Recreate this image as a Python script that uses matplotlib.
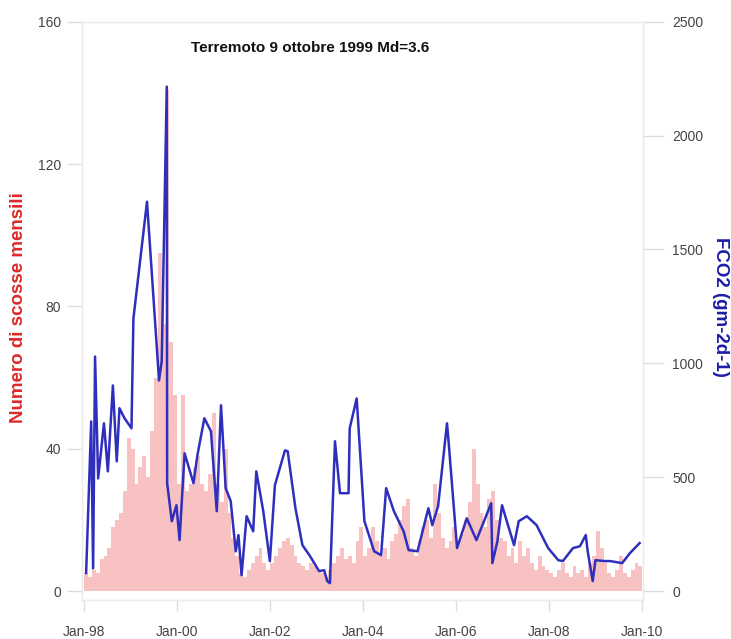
import numpy as np
import matplotlib
matplotlib.use("Agg")
import matplotlib.pyplot as plt

plt.rcParams['font.family'] = ['Liberation Sans', 'DejaVu Sans']

# Monthly earthquake counts, Jan 1998 .. Dec 2009 (one value per month)
scosse_1998 = [5, 4, 6, 5, 9, 10, 12, 18, 20, 22, 28, 43]
scosse_1999 = [40, 30, 35, 38, 32, 45, 60, 95, 75, 141, 70, 55]
scosse_2000 = [30, 55, 28, 30, 35, 38, 30, 28, 33, 50, 30, 25]
scosse_2001 = [40, 22, 15, 10, 5, 4, 6, 8, 10, 12, 8, 6]
scosse_2002 = [8, 10, 12, 14, 15, 13, 10, 8, 7, 6, 8, 7]
scosse_2003 = [6, 5, 4, 6, 8, 10, 12, 9, 10, 8, 14, 18]
scosse_2004 = [10, 12, 18, 14, 10, 12, 9, 14, 16, 20, 24, 26]
scosse_2005 = [12, 10, 14, 18, 20, 15, 30, 22, 15, 12, 14, 18]
scosse_2006 = [14, 16, 20, 25, 40, 30, 22, 18, 26, 28, 20, 15]
scosse_2007 = [14, 10, 12, 8, 14, 10, 12, 8, 6, 10, 7, 6]
scosse_2008 = [5, 4, 6, 8, 5, 4, 7, 5, 6, 4, 8, 10]
scosse_2009 = [17, 12, 8, 5, 4, 6, 10, 5, 4, 6, 8, 7]

# CO2 flux measurements: months elapsed since Jan 1998, and flux (g m-2 d-1)
fco2_mesi = [0.5, 1.8, 2.3, 2.8, 3.6, 5.1, 6.1, 7.4, 8.4, 9.1, 10.4, 12.2,
             12.7, 16.2, 18.8, 19.3, 20.0, 21.3, 21.4, 22.6, 23.8, 24.6,
             25.9, 28.2, 29.2, 31.0, 32.7, 34.2, 35.3, 36.5, 37.8, 39.1,
             39.8, 40.6, 41.9, 42.9, 43.6, 44.4, 46.2, 47.9, 49.2, 51.8,
             52.5, 54.5, 56.3, 58.1, 60.6, 61.9, 62.7, 63.4, 64.7, 66.0,
             68.2, 68.5, 70.3, 72.3, 74.8, 76.6, 77.9, 79.9, 82.4, 83.7,
             86.0, 88.8, 89.8, 91.3, 93.6, 93.9, 96.2, 98.7, 101.2, 105.0,
             105.3, 106.6, 107.8, 108.8, 110.9, 112.1, 114.2, 116.7, 119.7,
             122.3, 123.5, 126.1, 127.9, 129.4, 129.9, 131.2, 131.9, 134.2,
             135.7, 138.8, 140.8, 143.3]
fco2_valori = [80, 745, 100, 1030, 495, 737, 526, 903, 570, 803, 759, 715,
               1197, 1710, 1053, 925, 1009, 2215, 474, 307, 377, 224,
               605, 474, 596, 759, 702, 351, 816, 452, 395, 175,
               246, 70, 329, 290, 263, 526, 351, 132, 465, 618,
               614, 364, 202, 158, 88, 92, 44, 35, 658, 430,
               430, 715, 846, 307, 175, 158, 452, 351, 263, 180,
               175, 364, 290, 373, 737, 680, 189, 320, 224, 386,
               123, 219, 377, 320, 202, 307, 329, 290, 189,
               136, 132, 189, 197, 246, 175, 44, 136, 132,
               132, 123, 167, 211]

tick_anni = [1998, 2000, 2002, 2004, 2006, 2008, 2010]
tick_etichette = ['Jan-98', 'Jan-00', 'Jan-02', 'Jan-04', 'Jan-06', 'Jan-08', 'Jan-10']

scosse = np.array(scosse_1998 + scosse_1999 + scosse_2000 + scosse_2001 +
                  scosse_2002 + scosse_2003 + scosse_2004 + scosse_2005 +
                  scosse_2006 + scosse_2007 + scosse_2008 + scosse_2009)
mesi_x = 1998 + (np.arange(len(scosse)) + 0.5) / 12.0
fco2_x = 1998 + np.array(fco2_mesi) / 12.0

fig = plt.figure(figsize=(7.31, 6.39), dpi=100)
ax = fig.add_axes([0.112, 0.061, 0.768, 0.905])
ax2 = ax.twinx()

# monthly counts as pink bars
ax.bar(mesi_x, scosse, width=1 / 12.0, color='#f8c2c2', linewidth=0, zorder=1)

# CO2 flux line on the secondary axis
ax2.plot(fco2_x, fco2_valori, color='#2f2fbe', linewidth=1.8, zorder=3)

ax.set_xlim(1997.95, 2010.02)
ax.set_ylim(-2.5, 160)
ax2.set_ylim(-39, 2500)

ax.set_yticks([0, 40, 80, 120, 160])
ax2.set_yticks([0, 500, 1000, 1500, 2000, 2500])
ax.set_xticks(tick_anni)
ax.set_xticklabels(tick_etichette)

for a in (ax, ax2):
    for s in a.spines.values():
        s.set_color('#ececec')
        s.set_linewidth(1.0)
    a.tick_params(colors='#dddddd', labelcolor='#444444', labelsize=10,
                  width=1.0)
ax.tick_params(axis='x', length=8, pad=10)
ax.tick_params(axis='y', length=11, pad=4)
ax2.tick_params(axis='y', length=15, pad=6)

ax.set_ylabel('Numero di scosse mensili', color='#dd2a2a', fontsize=13.5,
              fontweight='bold')
ax2.set_ylabel('FCO2 (gm-2d-1)', color='#1c1ca8', fontsize=13.5,
               fontweight='bold', rotation=-90)
ax.yaxis.set_label_coords(-0.098, 0.505)
ax2.yaxis.set_label_coords(1.153, 0.507)

ax.text(0.406, 0.955, 'Terremoto 9 ottobre 1999 Md=3.6', transform=ax.transAxes,
        ha='center', va='center', fontsize=11, fontweight='bold', color='#111111')

fig.savefig('out.png', dpi=100)
